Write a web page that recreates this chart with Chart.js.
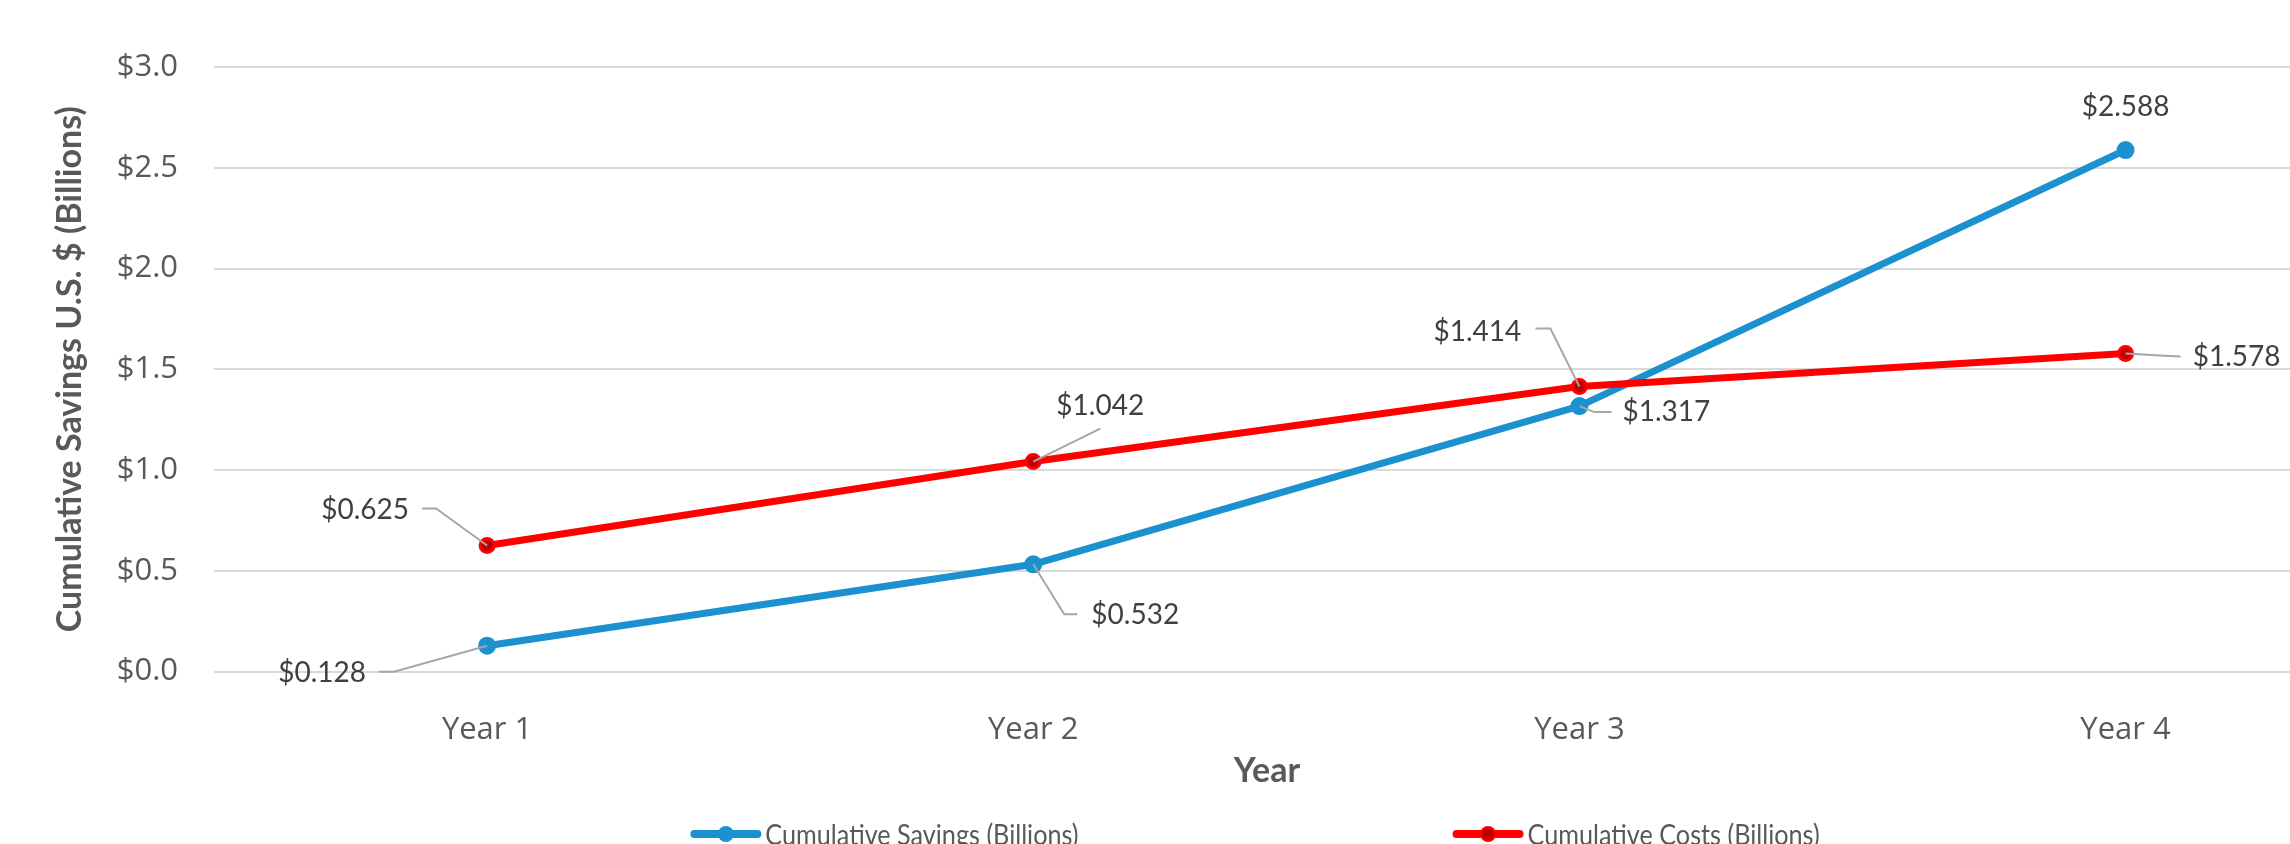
<!DOCTYPE html>
<html>
<head>
<meta charset="utf-8">
<title>Cumulative Savings vs Costs</title>
<script src="https://cdn.jsdelivr.net/npm/chart.js@4.4.1/dist/chart.umd.min.js"></script>
<style>
  html, body { margin: 0; padding: 0; background: #fff; overflow: hidden; }
  #wrap { position: relative; width: 2330px; height: 844px; }
</style>
</head>
<body>
<div id="wrap"><canvas id="chart-savings"></canvas></div>
<script>
'use strict';

// 數據
const yearLabels = ['Year 1', 'Year 2', 'Year 3', 'Year 4'];
const savingsValues = [0.128, 0.532, 1.317, 2.588];
const costsValues = [0.625, 1.042, 1.414, 1.578];
const yTickValues = [0, 0.5, 1.0, 1.5, 2.0, 2.5, 3.0];

const BLUE = '#1C91D0';
const RED = '#FF0000';
const RED_DARK = '#C00000';
const TEXT_GREY = '#595959';

function toPoints(values) {
  return values.map(function(v, i) { return { x: i + 1, y: v }; });
}

/* 數據標籤 + 引線 */
const calloutPlugin = {
  id: 'callouts',
  afterDatasetsDraw(chart, args, opts) {
    const ctx = chart.ctx;
    ctx.save();
    ctx.font = opts.font;
    ctx.textAlign = 'center';
    ctx.textBaseline = 'middle';
    chart.data.datasets.forEach(function(ds, di) {
      const meta = chart.getDatasetMeta(di);
      const places = opts.places[di];
      meta.data.forEach(function(pt, i) {
        const p = places[i];
        if (p.leader) {
          ctx.beginPath();
          ctx.moveTo(pt.x, pt.y);
          p.leader.forEach(function(d) { ctx.lineTo(pt.x + d[0], pt.y + d[1]); });
          ctx.strokeStyle = opts.leaderColor;
          ctx.lineWidth = 2;
          ctx.stroke();
        }
        ctx.fillStyle = opts.color;
        ctx.fillText('$' + ds.data[i].y.toFixed(3), pt.x + p.dx, pt.y + p.dy);
      });
    });
    ctx.restore();
  }
};

/* 底部圖例 (線 + 圓點)，文字略作水平壓縮 */
const legendPlugin = {
  id: 'bottomLegend',
  afterDraw(chart, args, opts) {
    const ctx = chart.ctx;
    ctx.save();
    ctx.font = opts.font;
    const items = chart.data.datasets.map(function(ds) {
      const tw = ctx.measureText(ds.label).width * opts.scaleX;
      return { ds: ds, tw: tw, w: opts.sample + opts.textGap + tw };
    });
    const total = items.reduce(function(s, it) { return s + it.w; }, 0) + opts.itemGap * (items.length - 1);
    let x = opts.centerX - total / 2;
    const y = opts.y;
    items.forEach(function(it) {
      const ds = it.ds;
      ctx.beginPath();
      ctx.moveTo(x + 4, y);
      ctx.lineTo(x + opts.sample - 4, y);
      ctx.strokeStyle = ds.borderColor;
      ctx.lineWidth = 8;
      ctx.lineCap = 'round';
      ctx.stroke();
      ctx.beginPath();
      ctx.arc(x + opts.sample / 2, y, 7, 0, Math.PI * 2);
      ctx.fillStyle = ds.pointBackgroundColor;
      ctx.fill();
      ctx.lineWidth = 2;
      ctx.strokeStyle = ds.pointBorderColor;
      ctx.stroke();

      ctx.save();
      ctx.translate(x + opts.sample + opts.textGap, y + 2);
      ctx.scale(opts.scaleX, 1);
      ctx.fillStyle = opts.color;
      ctx.textAlign = 'left';
      ctx.textBaseline = 'middle';
      ctx.fillText(ds.label, 0, 0);
      ctx.restore();

      x += it.w + opts.itemGap;
    });
    ctx.restore();
  }
};

const tickFont = { family: '"Open Sans", sans-serif', size: 31 };

const chartSavings = new Chart(document.getElementById('chart-savings'), {
  type: 'line',
  data: {
    datasets: [
      {
        label: 'Cumulative Savings (Billions)',
        data: toPoints(savingsValues),
        borderColor: BLUE,
        backgroundColor: BLUE,
        pointBackgroundColor: BLUE,
        pointBorderColor: BLUE,
        borderWidth: 7,
        pointRadius: 8,
        pointBorderWidth: 2,
        borderJoinStyle: 'round',
        borderCapStyle: 'round',
        tension: 0,
        order: 1
      },
      {
        label: 'Cumulative Costs (Billions)',
        data: toPoints(costsValues),
        borderColor: RED,
        backgroundColor: RED,
        pointBackgroundColor: RED_DARK,
        pointBorderColor: RED,
        borderWidth: 7,
        pointRadius: 7,
        pointBorderWidth: 3,
        borderJoinStyle: 'round',
        borderCapStyle: 'round',
        tension: 0,
        order: 0
      }
    ]
  },
  options: {
    responsive: true,
    maintainAspectRatio: false,
    animation: false,
    events: [],
    layout: { padding: { top: 67, bottom: 42.5, left: 0, right: 0 } },
    plugins: {
      legend: { display: false },
      tooltip: { enabled: false },
      callouts: {
        font: '28px Lato, sans-serif',
        color: '#404040',
        leaderColor: '#A6A6A6',
        places: [
          [
            { dx: -165, dy: 27, leader: [[-93, 26], [-108, 26]] },
            { dx: 102, dy: 51, leader: [[31, 50], [44, 50]] },
            { dx: 87, dy: 6, leader: [[15, 6], [32, 6]] },
            { dx: 0, dy: -43 }
          ],
          [
            { dx: -122, dy: -36, leader: [[-51, -37], [-65, -37]] },
            { dx: 67, dy: -56, leader: [[67, -33]] },
            { dx: -102, dy: -55, leader: [[-29, -58], [-44, -58]] },
            { dx: 111, dy: 3, leader: [[34, 2], [55, 3]] }
          ]
        ]
      },
      bottomLegend: {
        font: '28px Lato, sans-serif',
        scaleX: 0.9,
        color: TEXT_GREY,
        sample: 71,
        textGap: 4,
        itemGap: 374,
        centerX: 1255,
        y: 834
      }
    },
    scales: {
      x: {
        type: 'linear',
        min: 0.5,
        max: 4.356,
        grid: { display: false },
        border: { display: false },
        afterBuildTicks: function(scale) {
          scale.ticks = yearLabels.map(function(l, i) { return { value: i + 1 }; });
        },
        ticks: {
          font: tickFont,
          color: TEXT_GREY,
          padding: 32,
          callback: function(v) { return yearLabels[v - 1]; }
        },
        title: {
          display: true,
          text: 'Year',
          font: { family: 'Lato, sans-serif', size: 34, weight: 'bold' },
          color: TEXT_GREY,
          padding: { top: 0, bottom: 10 }
        },
        afterFit: function(scale) { scale.height = 130; }
      },
      y: {
        min: 0,
        max: 3,
        afterBuildTicks: function(scale) {
          scale.ticks = yTickValues.map(function(v) { return { value: v }; });
        },
        grid: { color: '#D9D9D9', lineWidth: 2, drawTicks: false },
        border: { display: false },
        ticks: {
          font: tickFont,
          color: TEXT_GREY,
          padding: 36,
          callback: function(v) { return '$' + v.toFixed(1); }
        },
        title: {
          display: true,
          text: 'Cumulative Savings U.S. $ (Billions)',
          font: { family: 'Lato, sans-serif', size: 34, weight: 'bold' },
          color: TEXT_GREY,
          padding: { top: 50, bottom: 0 }
        },
        afterFit: function(scale) { scale.width = 214; }
      }
    }
  },
  plugins: [calloutPlugin, legendPlugin]
});
</script>
</body>
</html>
